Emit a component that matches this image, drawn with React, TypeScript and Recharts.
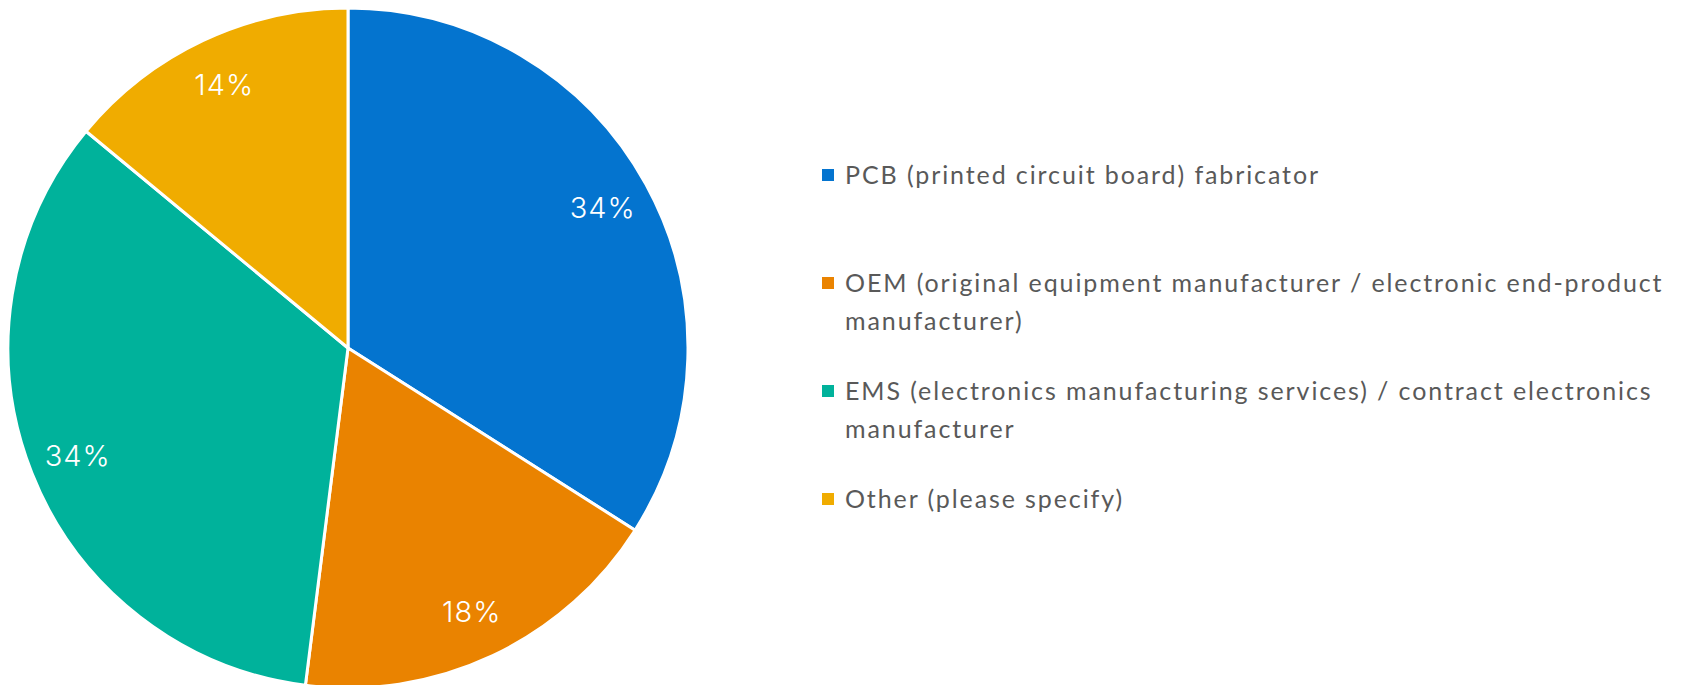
import React from "react";
import { PieChart, Pie, Cell, Legend } from "recharts";

const categories = [
  "PCB (printed circuit board) fabricator",
  "OEM (original equipment manufacturer / electronic end-product manufacturer)",
  "EMS (electronics manufacturing services) / contract electronics manufacturer",
  "Other (please specify)",
];
const shares = [34, 18, 34, 14];
const colors = ["#0474CF", "#EA8300", "#00B29B", "#F0AC00"];

const data = categories.map((name, i) => ({ name, value: shares[i], fill: colors[i] }));

const RADIAN = Math.PI / 180;

const renderLabel = (props: any) => {
  const { cx, cy, midAngle, outerRadius, value } = props;
  const r = outerRadius * 0.855;
  const x = cx + r * Math.cos(-midAngle * RADIAN);
  const y = cy + r * Math.sin(-midAngle * RADIAN);
  return (
    <text
      x={x}
      y={y}
      fill="#ffffff"
      textAnchor="middle"
      dominantBaseline="central"
      style={{ fontFamily: "Inter, Roboto, sans-serif", fontSize: 29, fontWeight: 300, letterSpacing: 1 }}
    >
      {`${value}%`}
    </text>
  );
};

const renderLegend = () => (
  <div style={{ width: 870, fontFamily: "Lato, 'Open Sans', sans-serif", color: "#595959" }}>
    {categories.map((name, i) => (
      <div key={name} style={{ height: 108, display: "flex", alignItems: "flex-start" }}>
        <div
          style={{
            width: 12,
            height: 12,
            background: colors[i],
            marginTop: 14,
            marginRight: 11,
            flex: "0 0 auto",
          }}
        />
        <div style={{ width: 845, fontSize: 25, lineHeight: "38px", letterSpacing: 1.9 }}>{name}</div>
      </div>
    ))}
  </div>
);

export default function App() {
  return (
    <div style={{ position: "fixed", left: 0, top: 0, width: 1687, height: 685, overflow: "hidden", background: "#fff" }}>
      <PieChart width={1687} height={685} margin={{ top: 0, right: 0, bottom: 0, left: 0 }}>
        <Pie
          data={data}
          dataKey="value"
          nameKey="name"
          cx={348}
          cy={348}
          outerRadius={340}
          startAngle={90}
          endAngle={-270}
          stroke="#ffffff"
          strokeWidth={3}
          label={renderLabel}
          labelLine={false}
          isAnimationActive={false}
        >
          {data.map((d) => (
            <Cell key={d.name} fill={d.fill} />
          ))}
        </Pie>
        <Legend
          content={renderLegend}
          wrapperStyle={{ position: "absolute", left: 822, top: 155, width: 870 }}
        />
      </PieChart>
    </div>
  );
}
